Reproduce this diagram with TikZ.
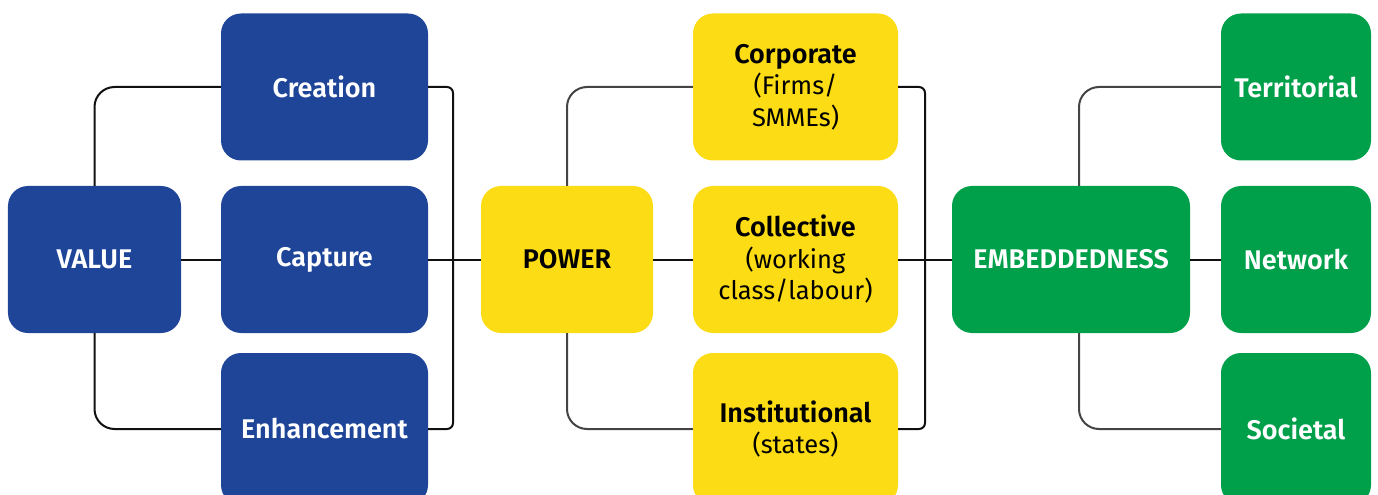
\documentclass[tikz,border=0pt]{standalone}
\usepackage{fontspec}
\setmainfont{Fira Sans}[BoldFont={Fira Sans SemiBold}]
\definecolor{vblue}{HTML}{1F4599}
\definecolor{pyellow}{HTML}{FCDC14}
\definecolor{egreen}{HTML}{00A04B}
\definecolor{linegray}{HTML}{444444}
\definecolor{lineblack}{HTML}{111111}
\newcommand{\headfont}{\fontsize{27bp}{31.5bp}\selectfont\bfseries}
\newcommand{\bodyfont}{\fontsize{25.5bp}{31.5bp}\selectfont}
\begin{document}
\begin{tikzpicture}[x=1bp,y=-1bp,
  box/.style={rounded corners=20bp, minimum height=147bp, inner sep=0pt, align=center,
    font=\bodyfont},
  bluebox/.style={box, fill=vblue, text=white, font=\headfont},
  yellowbox/.style={box, fill=pyellow, text=black},
  greenbox/.style={box, fill=egreen, text=white, font=\headfont},
  lowbox/.style={minimum height=152bp},
  link/.style={line width=2bp, draw=lineblack},
  branch/.style={line width=2bp, draw=linegray, rounded corners=20bp},
  bracket/.style={line width=2bp, draw=lineblack, rounded corners=6bp}]
\useasboundingbox (0,0) rectangle (1378,495);
\begin{scope}
\clip (0,0) rectangle (1378,495);
% value column
\node[bluebox, minimum width=173bp] (value) at (94.5,259.5) {VALUE};
\node[bluebox, minimum width=207bp] (creation) at (324.5,87) {Creation};
\node[bluebox, minimum width=207bp] (capture) at (324.5,259.5) {Capture};
\node[bluebox, lowbox, minimum width=207bp] (enh) at (324.5,429) {Enhancement};
% power column
\node[yellowbox, minimum width=172bp, font=\headfont] (power) at (567,259.5) {POWER};
\node[yellowbox, minimum width=205bp] (corp) at (795.5,87) {{\headfont Corporate}\\(Firms/\\SMMEs)};
\node[yellowbox, minimum width=205bp] (coll) at (795.5,259.5) {{\headfont Collective}\\(working\\class/labour)};
\node[yellowbox, lowbox, minimum width=205bp] (inst) at (795.5,429) {{\headfont Institutional}\\(states)};
% embeddedness column
\node[greenbox, minimum width=238bp] (emb) at (1071,259.5) {EMBEDDEDNESS};
\node[greenbox, minimum width=150bp] (terr) at (1296,87) {Territorial};
\node[greenbox, minimum width=150bp] (net) at (1296,259.5) {Network};
\node[greenbox, lowbox, minimum width=150bp] (soc) at (1296,429) {Societal};
\end{scope}
% bracket joints
\coordinate (vb) at (453,259.5);
\coordinate (pb) at (925,259.5);
% value links
\draw[branch, draw=lineblack] (value.north) |- (creation.west);
\draw[branch, draw=lineblack] (value.south) |- (enh.west);
\draw[link] (value.east) -- (capture.west);
\draw[bracket] (creation.east) -| (vb) |- (enh.east);
\draw[link] (capture.east) -- (power.west);
% power links
\draw[branch] (power.north) |- (corp.west);
\draw[branch] (power.south) |- (inst.west);
\draw[link] (power.east) -- (coll.west);
\draw[bracket] (corp.east) -| (pb) |- (inst.east);
\draw[link] (coll.east) -- (emb.west);
% embeddedness links
\draw[branch] ([xshift=8bp]emb.north) |- (terr.west);
\draw[branch] ([xshift=8bp]emb.south) |- (soc.west);
\draw[link] (emb.east) -- (net.west);
\end{tikzpicture}
\end{document}
